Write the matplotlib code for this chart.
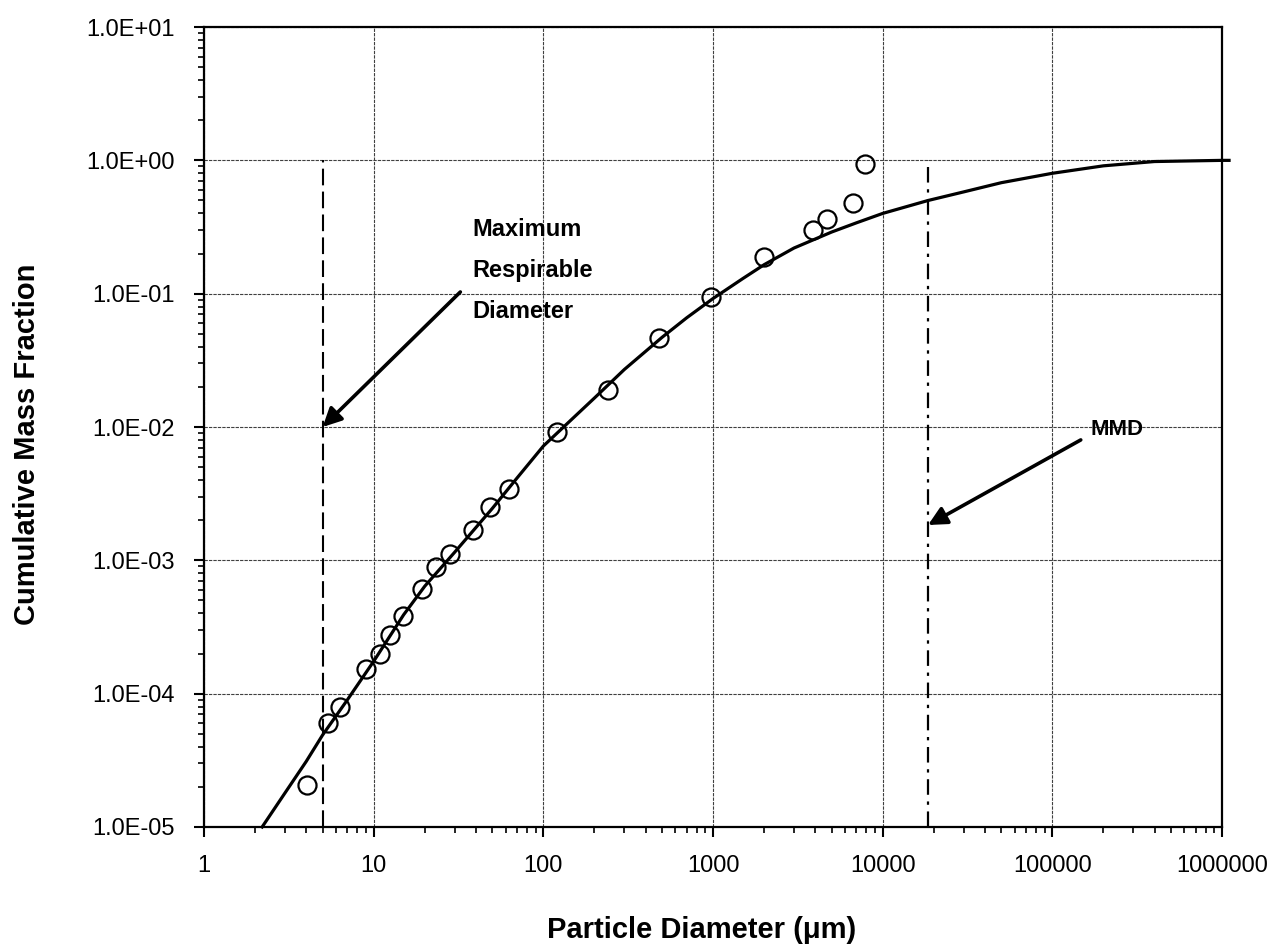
import numpy as np
import matplotlib
matplotlib.use("Agg")
from matplotlib import pyplot as plt
from matplotlib.ticker import FixedLocator, FuncFormatter, LogLocator, NullFormatter

# measured points (open circles)
particle_diam = [4.05, 5.4, 6.3, 9.0, 10.9, 12.5, 14.9, 19.3, 23.4, 28.3,
                 38.6, 48.6, 63.0, 121, 239, 479, 967, 1990, 3860, 4670, 6650, 7830]
mass_frac = [2.06e-5, 6.0e-5, 7.9e-5, 1.53e-4, 1.98e-4, 2.75e-4, 3.81e-4, 6.1e-4, 8.9e-4, 1.11e-3,
             1.69e-3, 2.5e-3, 3.45e-3, 9.2e-3, 1.89e-2, 4.65e-2, 9.4e-2, 0.188, 0.30, 0.363, 0.479, 0.94]

# fitted curve
curve_diam = [2.2, 3, 4, 5, 7, 10, 15, 20, 30, 50, 70, 100, 150, 200, 300, 500, 700,
              1000, 1500, 2000, 3000, 5000, 7000, 10000, 18500, 30000, 50000, 100000,
              200000, 400000, 1000000, 1100000]
curve_frac = [1.0e-5, 1.8e-5, 3.1e-5, 4.9e-5, 9.0e-5, 1.75e-4, 3.9e-4, 6.4e-4, 1.15e-3, 2.45e-3,
              4.15e-3, 7.2e-3, 1.17e-2, 1.65e-2, 2.7e-2, 4.7e-2, 6.6e-2, 9.2e-2, 0.13, 0.165,
              0.22, 0.29, 0.34, 0.40, 0.50, 0.58, 0.68, 0.80, 0.91, 0.98, 1.0, 1.0]

resp_diam = 5.0      # maximum respirable diameter
mmd = 18500.0        # mass median diameter

y_ticks = [1e-5, 1e-4, 1e-3, 1e-2, 1e-1, 1e0, 1e1]
x_ticks = [1, 10, 100, 1000, 10000, 100000, 1000000]

plt.rcParams['font.family'] = ['Liberation Sans', 'DejaVu Sans']

fig = plt.figure(figsize=(12.85, 9.49), dpi=100)
ax = fig.add_axes([0.1588, 0.1286, 0.7922, 0.8429])
ax.set_xscale('log')
ax.set_yscale('log')
ax.set_xlim(1, 1e6)
ax.set_ylim(1e-5, 10)

ax.grid(True, which='major', color='0.25', lw=0.8, ls=(0, (3, 1)))
ax.set_axisbelow(True)

ax.plot(curve_diam, curve_frac, color='k', lw=2.3, clip_on=False, zorder=3)
ax.plot(particle_diam, mass_frac, ls='none', marker='o', ms=13, mfc='none',
        mec='k', mew=1.6, zorder=4)

ax.plot([resp_diam, resp_diam], [1e-5, 1.0], color='k', lw=1.5, ls=(0, (8, 3)), zorder=2)
ax.plot([mmd, mmd], [1e-5, 1.0], color='k', lw=1.6, ls=(0, (7, 3, 1.5, 3)), zorder=2)

ax.annotate('', xy=(resp_diam, 1e-2), xytext=(32.4, 0.103),
            arrowprops=dict(arrowstyle='-|>', lw=2.6, color='k', mutation_scale=28,
                            shrinkA=0, shrinkB=0))
ax.annotate('', xy=(mmd, 1.84e-3), xytext=(147000, 8.0e-3),
            arrowprops=dict(arrowstyle='-|>', lw=2.6, color='k', mutation_scale=28,
                            shrinkA=0, shrinkB=0))

ax.text(38.1, 0.150, 'Maximum\nRespirable\nDiameter', fontsize=17, fontweight='bold',
        ha='left', va='center', linespacing=2.0)
ax.text(168700, 9.5e-3, 'MMD', fontsize=16, fontweight='bold', ha='left', va='center')

ax.yaxis.set_major_locator(FixedLocator(y_ticks))
ax.yaxis.set_major_formatter(FuncFormatter(lambda v, p: format(v, '.1E')))
ax.yaxis.set_minor_locator(LogLocator(base=10, subs=np.arange(2, 10), numticks=20))
ax.yaxis.set_minor_formatter(NullFormatter())
ax.xaxis.set_major_locator(FixedLocator(x_ticks))
ax.xaxis.set_major_formatter(FuncFormatter(lambda v, p: '%d' % v))
ax.xaxis.set_minor_locator(LogLocator(base=10, subs=np.arange(2, 10), numticks=20))
ax.xaxis.set_minor_formatter(NullFormatter())

ax.tick_params(which='major', direction='out', length=7, width=1.5, labelsize=17)
ax.tick_params(which='minor', direction='out', length=4, width=1.2)
ax.tick_params(axis='y', which='major', pad=14)
ax.tick_params(axis='x', which='major', pad=13)

for s in ax.spines.values():
    s.set_linewidth(1.6)

fig.text(0.021, 0.532, 'Cumulative Mass Fraction', rotation=90, fontsize=21,
         fontweight='bold', ha='center', va='center')
fig.text(0.546, 0.02, 'Particle Diameter (\u03bcm)', fontsize=21, fontweight='bold',
         ha='center', va='center')

fig.savefig('out.png', dpi=100)
